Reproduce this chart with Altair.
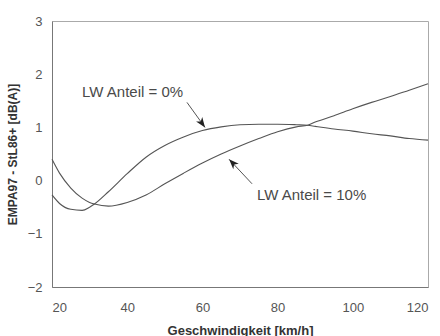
import altair as alt
import pandas as pd

speed = [20, 22, 25, 28, 30, 31.3, 35, 40, 45, 50, 55, 60, 65, 70, 75, 80, 85, 88, 90, 95, 100, 105, 110, 115, 120]
lw0 = [-0.27, -0.43, -0.54, -0.56, -0.50, -0.44, -0.21, 0.13, 0.44, 0.66, 0.82, 0.94, 1.01, 1.05, 1.06, 1.06, 1.05, 1.04, 1.02, 0.97, 0.93, 0.88, 0.84, 0.79, 0.76]
lw10 = [0.40, 0.14, -0.14, -0.33, -0.41, -0.44, -0.48, -0.41, -0.27, -0.06, 0.14, 0.33, 0.50, 0.65, 0.79, 0.92, 1.01, 1.04, 1.10, 1.22, 1.35, 1.47, 1.58, 1.70, 1.82]

labels = ["LW Anteil = 0%", "LW Anteil = 10%"]
label_x = [28.0, 74.5]
label_y = [1.66, -0.28]
arrow_x0 = [55.9, 73.2]
arrow_y0 = [1.47, -0.06]
arrow_x1 = [60.7, 67.1]
arrow_y1 = [1.00, 0.40]
arrow_angle = [144, 316]

rows = []
for s, a, b in zip(speed, lw0, lw10):
    rows.append({"v": s, "d": a, "serie": "0%"})
    rows.append({"v": s, "d": b, "serie": "10%"})
df = pd.DataFrame(rows)

ann = pd.DataFrame({"label": labels, "lx": label_x, "ly": label_y,
                    "x0": arrow_x0, "y0": arrow_y0, "x1": arrow_x1, "y1": arrow_y1,
                    "ang": arrow_angle})

xs = alt.Scale(domain=[20, 120], nice=False)
ys = alt.Scale(domain=[-2, 3], nice=False)

lines = alt.Chart(df).mark_line(color="#555555", strokeWidth=1.1, interpolate="monotone").encode(
    x=alt.X("v:Q", scale=xs, title="Geschwindigkeit [km/h]",
            axis=alt.Axis(values=[20, 40, 60, 80, 100, 120], ticks=False, domainColor="#777777",
                          labelColor="#555555", labelFontSize=13, labelPadding=14,
                          labelFont="Liberation Sans", titleFont="Liberation Sans",
                          titleFontSize=13, titleFontWeight="bold", titleColor="#333333",
                          titlePadding=10, grid=False)),
    y=alt.Y("d:Q", scale=ys, title="EMPA97 - StL86+ [dB(A)]",
            axis=alt.Axis(values=[-2, -1, 0, 1, 2, 3], ticks=False, domainColor="#777777",
                          labelColor="#555555", labelFontSize=13, labelPadding=10,
                          labelFont="Liberation Sans", titleFont="Liberation Sans",
                          titleFontSize=12, titleFontWeight="bold", titleColor="#333333",
                          titlePadding=8, grid=False)),
    detail="serie:N",
)

texts = alt.Chart(ann).mark_text(align="left", baseline="middle", fontSize=15,
                                 font="Liberation Sans", color="#4a4a4a").encode(
    x=alt.X("lx:Q", scale=xs), y=alt.Y("ly:Q", scale=ys), text="label:N")

rules = alt.Chart(ann).mark_rule(color="#555555", strokeWidth=1).encode(
    x=alt.X("x0:Q", scale=xs), y=alt.Y("y0:Q", scale=ys),
    x2="x1:Q", y2="y1:Q")

heads = alt.Chart(ann).mark_point(
    shape="M0,0 L0.38,1 L0,0.72 L-0.38,1 Z", filled=True, color="#222222", opacity=1, size=400,
).encode(x=alt.X("x1:Q", scale=xs), y=alt.Y("y1:Q", scale=ys), angle=alt.Angle("ang:Q", scale=None))

chart = alt.layer(lines, rules, heads, texts).properties(
    width=376, height=266,
    padding={"left": 52, "top": 21, "right": 12, "bottom": 49},
    autosize="none",
    background="#ffffff",
).configure_view(stroke="#aaaaaa", strokeWidth=1)

chart.save("out.html", embed_options={"renderer": "svg", "actions": False})
